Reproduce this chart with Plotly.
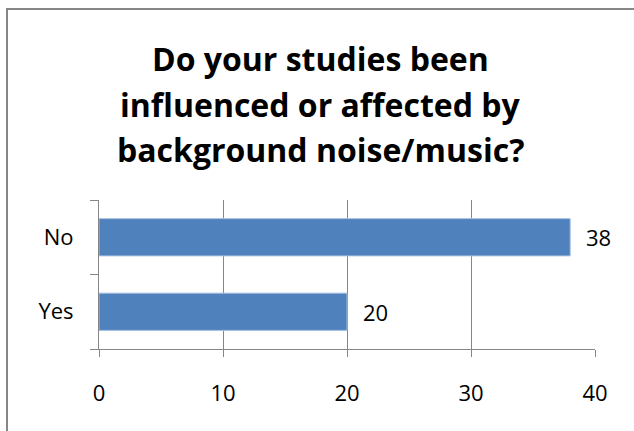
import plotly.graph_objects as go

categories = ["Yes", "No"]
counts = [20, 38]
x_ticks = [0, 10, 20, 30, 40]
title_lines = ["Do your studies been", "influenced or affected by", "background noise/music?"]

W, H = 634, 431
L, R, T, B = 99, 39, 200, 82
FONT = "Open Sans"
GREY = "#868686"
LABEL_SIZE = 22

fig = go.Figure(go.Bar(
    y=categories, x=counts, orientation="h",
    marker=dict(color="#4F81BD", line=dict(color="#a7c0e0", width=1)),
    width=0.5, hoverinfo="skip",
))

# value labels just past each bar end
for c, v in zip(categories, counts):
    fig.add_annotation(x=v, y=c, xref="x", yref="y", text=str(v), showarrow=False,
                       xanchor="left", yanchor="middle", xshift=14,
                       font=dict(family=FONT, size=LABEL_SIZE, color="black"))

# three-line chart title
plot_h = H - T - B
plot_w = W - L - R
def py(pix):
    return (H - B - pix) / plot_h
def px(pix):
    return (pix - L) / plot_w

for line, yc in zip(title_lines, [58, 104, 149]):
    fig.add_annotation(x=px(320), y=py(yc), xref="paper", yref="paper", text=f"<b>{line}</b>",
                       showarrow=False, xanchor="center", yanchor="middle",
                       font=dict(family=FONT, size=32, color="black"))

# outer chart border
fig.add_shape(type="rect", xref="paper", yref="paper",
              x0=px(7), x1=px(645), y0=py(445), y1=py(9),
              line=dict(color=GREY, width=2), fillcolor="rgba(0,0,0,0)")

fig.update_layout(
    width=W, height=H, margin=dict(l=L, r=R, t=T, b=B),
    paper_bgcolor="white", plot_bgcolor="white", showlegend=False,
    font=dict(family=FONT, size=LABEL_SIZE, color="black"),
    xaxis=dict(range=[0, 40], tickvals=x_ticks, showgrid=True, gridcolor=GREY, gridwidth=1,
               zeroline=False, showline=True, linecolor=GREY, linewidth=1,
               ticks="outside", ticklen=7, tickcolor=GREY, ticklabelstandoff=18,
               tickfont=dict(family=FONT, size=LABEL_SIZE)),
    yaxis=dict(categoryorder="array", categoryarray=categories, showgrid=False,
               zeroline=False, showline=True, linecolor=GREY, linewidth=1,
               ticks="outside", tickson="boundaries", ticklen=8, tickcolor=GREY,
               ticklabelstandoff=20, tickfont=dict(family=FONT, size=LABEL_SIZE)),
)

fig.write_html("out.html")
